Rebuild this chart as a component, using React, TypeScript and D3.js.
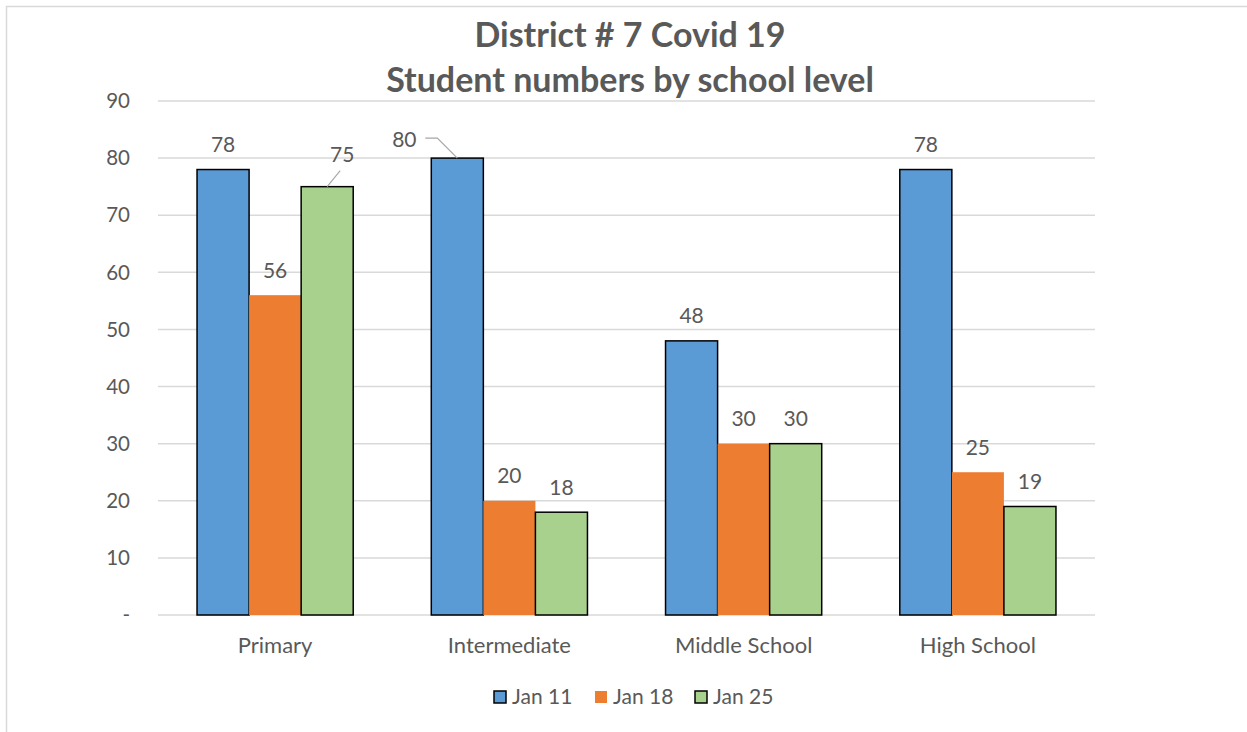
import React from "react";
import * as d3 from "d3";

const categories = ["Primary", "Intermediate", "Middle School", "High School"];
const seriesNames = ["Jan 11", "Jan 18", "Jan 25"];
const jan11 = [78, 80, 48, 78];
const jan18 = [56, 20, 30, 25];
const jan25 = [75, 18, 30, 19];
const yTicks = [0, 10, 20, 30, 40, 50, 60, 70, 80, 90];
const titleLines = ["District # 7 Covid 19", "Student numbers by school level"];

const colors = ["#5B9BD5", "#ED7D31", "#A9D18E"];
const outlined = [true, false, true];
const FONT = "Lato, 'Open Sans', sans-serif";
const TEXT = "#595959";

export default function App() {
  const W = 1247, H = 732;
  const left = 158, right = 1095, top = 101, bottom = 615;
  const series = [jan11, jan18, jan25];

  const x = d3.scaleBand<string>().domain(categories).range([left, right]).paddingInner(0).paddingOuter(0);
  const barW = x.bandwidth() / (3 + 1.5);
  const y = d3.scaleLinear().domain([0, 90]).range([bottom, top]);

  const barX = (ci: number, si: number) =>
    (x(categories[ci]) as number) + x.bandwidth() / 2 - 1.5 * barW + si * barW;

  // displaced labels (series index, category index) -> offset with leader line
  const displaced: Record<string, { dx: number; dy: number }> = {
    "0-1": { dx: -53, dy: 7 },
    "2-0": { dx: 15, dy: -7 },
  };

  return (
    <svg width={W} height={H} style={{ position: "absolute", left: 0, top: 0, background: "#fff" }}
      fontFamily={FONT}>
      <rect x={0} y={0} width={W} height={H} fill="#fff" />
      <rect x={6.5} y={6.5} width={1400} height={900} fill="none" stroke="#d9d9d9" strokeWidth={1.5} />
      {titleLines.map((t, i) => (
        <text key={i} x={630} y={47 + i * 45} textAnchor="middle" fontSize={34} fontWeight="bold" fill={TEXT}>
          {t}
        </text>
      ))}
      {yTicks.map((t) => (
        <g key={t}>
          <line x1={left} x2={right} y1={y(t)} y2={y(t)} stroke="#d9d9d9" strokeWidth={1.5} />
          <text x={130} y={y(t)} dy="0.35em" textAnchor="end" fontSize={20.5} fill={TEXT}>
            {t === 0 ? "-" : t}
          </text>
        </g>
      ))}
      {categories.map((c) => (
        <text key={c} x={(x(c) as number) + x.bandwidth() / 2} y={653} textAnchor="middle" fontSize={22} fill={TEXT}>
          {c}
        </text>
      ))}
      {series.map((vals, si) =>
        vals.map((v, ci) => (
          <rect key={`${si}-${ci}`} x={barX(ci, si)} y={y(v)} width={barW} height={bottom - y(v)}
            fill={colors[si]} stroke={outlined[si] ? "#000" : "none"} strokeWidth={1.5} />
        ))
      )}
      {series.map((vals, si) =>
        vals.map((v, ci) => {
          const cx = barX(ci, si) + barW / 2;
          const key = `${si}-${ci}`;
          const off = displaced[key];
          if (!off) {
            return (
              <text key={key} x={cx} y={y(v) - 25} dy="0.35em" textAnchor="middle" fontSize={21} fill={TEXT}>
                {v}
              </text>
            );
          }
          const lx = cx + off.dx;
          const ly = y(v) - 25 + off.dy;
          let path: string;
          if (off.dx < 0) {
            path = `M${lx + 21},${ly - 2} L${lx + 33},${ly - 2} L${cx},${y(v)}`;
          } else {
            path = `M${cx + 13},${ly + 16} L${cx},${y(v)}`;
          }
          return (
            <g key={key}>
              <path d={path} fill="none" stroke="#a6a6a6" strokeWidth={1.2} />
              <text x={lx} y={ly} dy="0.35em" textAnchor="middle" fontSize={21} fill={TEXT}>
                {v}
              </text>
            </g>
          );
        })
      )}
      {seriesNames.map((s, i) => {
        const lx = [494, 595, 695][i];
        return (
          <g key={s}>
            <rect x={lx} y={691} width={12} height={12} fill={colors[i]}
              stroke={outlined[i] ? "#000" : "none"} strokeWidth={1.5} />
            <text x={lx + 18} y={697} dy="0.35em" fontSize={21} fill={TEXT}>{s}</text>
          </g>
        );
      })}
    </svg>
  );
}
